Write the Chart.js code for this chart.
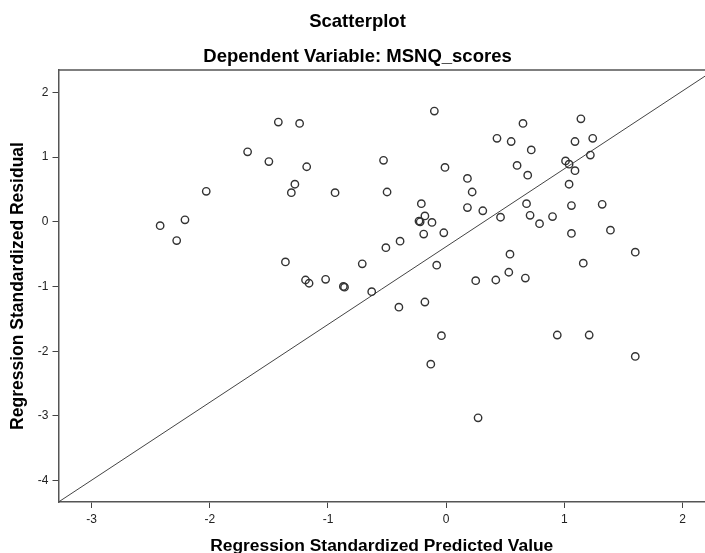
<!DOCTYPE html>
<html><head><meta charset="utf-8">
<script src="https://cdn.jsdelivr.net/npm/chart.js@4/dist/chart.umd.min.js"></script>
<style>html,body{margin:0;padding:0;background:#fff}canvas{display:block}</style>
</head><body>
<div style="width:705px;height:553px"><canvas id="c" width="705" height="553"></canvas></div>
<script>
// Regression Standardized Predicted Value (x) and Standardized Residual (y)
const predicted = [-1.42,-1.24,-1.68,-1.50,-1.18,-1.28,-1.31,-2.03,-2.21,-2.42,-2.28,-1.36,-1.19,-1.16,-1.02,-0.87,-0.86,-0.63,-0.40,-0.18,-0.04,-0.13,0.27,
  -0.10,-0.53,-0.01,0.18,0.22,-0.94,-0.50,-0.21,0.18,-0.18,-0.23,-0.22,-0.12,-0.19,-0.02,-0.39,-0.51,-0.71,-0.08,
  0.65,1.14,0.43,0.55,1.09,1.24,0.72,1.22,1.01,1.04,1.09,0.60,0.69,1.04,0.31,0.46,0.68,0.71,0.79,0.90,1.06,1.32,1.06,1.39,0.54,1.60,1.16,
  0.25,0.42,0.53,0.67,0.94,1.21,1.60];
const residual = [1.54,1.52,1.08,0.93,0.85,0.58,0.45,0.47,0.03,-0.06,-0.29,-0.62,-0.90,-0.95,-0.89,-1.00,-1.01,-1.08,-1.32,-1.24,-1.76,-2.20,-3.03,
  1.71,0.95,0.84,0.67,0.46,0.45,0.46,0.28,0.22,0.09,0.01,0.00,-0.01,-0.19,-0.17,-0.30,-0.40,-0.65,-0.67,
  1.52,1.59,1.29,1.24,1.24,1.29,1.11,1.03,0.94,0.89,0.79,0.87,0.72,0.58,0.17,0.07,0.28,0.10,-0.03,0.08,0.25,0.27,-0.18,-0.13,-0.50,-0.47,-0.64,
  -0.91,-0.90,-0.78,-0.87,-1.75,-1.75,-2.08];
// reference line end points
const lineX = [-3.28, 2.19];
const lineY = [-4.33, 2.25];
const xTicks = [-3,-2,-1,0,1,2];
const yTicks = [2,1,0,-1,-2,-3,-4];
const titleText = "Scatterplot";
const subtitleText = "Dependent Variable: MSNQ_scores";
const xTitle = "Regression Standardized Predicted Value";
const yTitle = "Regression Standardized Residual";

const FONT = "'Liberation Sans', Arial, sans-serif";

const frameTop = {
  id: 'frameTop',
  afterDatasetsDraw(chart) {
    const {ctx, chartArea: a} = chart;
    ctx.save();
    ctx.strokeStyle = '#555';
    ctx.lineWidth = 1.5;
    ctx.beginPath();
    ctx.moveTo(a.left, a.top);
    ctx.lineTo(a.right, a.top);
    ctx.stroke();
    ctx.restore();
  },
  afterDraw(chart) {
    const {ctx} = chart;
    ctx.save();
    ctx.fillStyle = '#000';
    ctx.textAlign = 'center';
    ctx.textBaseline = 'alphabetic';
    ctx.font = "bold 18.5px " + FONT;
    ctx.fillText(titleText, 357.5, 26.5);
    ctx.fillText(subtitleText, 357.5, 62);
    ctx.restore();
  }
};

const pts = predicted.map((x, i) => ({x, y: residual[i]}));
const linePts = lineX.map((x, i) => ({x, y: lineY[i]}));

new Chart(document.getElementById('c'), {
  type: 'scatter',
  data: {
    datasets: [
      {
        data: pts,
        pointStyle: 'circle',
        pointRadius: 3.7,
        pointBorderWidth: 1.4,
        borderColor: '#333',
        backgroundColor: 'rgba(0,0,0,0)',
        pointHoverRadius: 3.7
      },
      {
        type: 'line',
        data: linePts,
        showLine: true,
        pointRadius: 0,
        borderColor: '#444',
        borderWidth: 1,
        fill: false
      }
    ]
  },
  options: {
    responsive: false,
    animation: false,
    devicePixelRatio: 1,
    layout: {autoPadding: false, padding: {top: 70, left: 0, right: 0, bottom: 0}},
    plugins: {legend: {display: false}, tooltip: {enabled: false}, title: {display: false}},
    scales: {
      x: {
        type: 'linear',
        min: -3.28, max: 2.19,
        afterBuildTicks: s => { s.ticks = xTicks.map(v => ({value: v})); },
        afterFit: s => { s.height = 51; s.paddingLeft = 0; s.paddingRight = 0; },
        ticks: {color: '#222', font: {family: FONT, size: 12}, padding: 4, callback: v => String(v), maxRotation: 0, autoSkip: false},
        grid: {display: true, drawOnChartArea: false, drawTicks: true, tickLength: 6, color: '#444', lineWidth: 1},
        border: {display: true, color: '#555', width: 1.5},
        title: {display: true, text: xTitle, color: '#000', font: {family: FONT, size: 17.4, weight: 'bold', lineHeight: '14px'}, padding: 0}
      },
      y: {
        type: 'linear',
        min: -4.33, max: 2.345,
        afterBuildTicks: s => { s.ticks = yTicks.map(v => ({value: v})); },
        afterFit: s => { s.width = 58.5; s.paddingTop = 0; s.paddingBottom = 0; },
        ticks: {color: '#222', font: {family: FONT, size: 12}, padding: 4, callback: v => String(v), autoSkip: false},
        grid: {display: true, drawOnChartArea: false, drawTicks: true, tickLength: 6, color: '#444', lineWidth: 1},
        border: {display: true, color: '#555', width: 1.5},
        title: {display: true, text: yTitle, color: '#000', font: {family: FONT, size: 17.5, weight: 'bold', lineHeight: '20px'}, padding: {top: 8, bottom: 0}}
      }
    }
  },
  plugins: [frameTop]
});
</script>
</body></html>
